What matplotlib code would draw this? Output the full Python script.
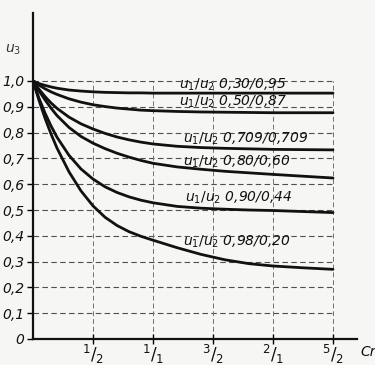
import matplotlib
matplotlib.use("Agg")
import matplotlib.pyplot as plt

# ---- data ----
cr = [0.0, 0.05, 0.1, 0.15, 0.2, 0.3, 0.4, 0.5, 0.6, 0.7, 0.8, 0.9, 1.0,
      1.2, 1.4, 1.6, 1.8, 2.0, 2.25, 2.5]
u3_030_095 = [1.0, 0.990, 0.983, 0.977, 0.972, 0.965, 0.961, 0.958, 0.956, 0.955,
              0.954, 0.954, 0.953, 0.953, 0.953, 0.953, 0.953, 0.953, 0.953, 0.953]
u3_050_087 = [1.0, 0.984, 0.970, 0.958, 0.948, 0.931, 0.918, 0.908, 0.901, 0.895,
              0.891, 0.887, 0.885, 0.882, 0.880, 0.879, 0.878, 0.877, 0.877, 0.877]
u3_0709_0709 = [1.0, 0.968, 0.940, 0.915, 0.894, 0.860, 0.834, 0.814, 0.797, 0.783,
                0.772, 0.763, 0.756, 0.747, 0.742, 0.739, 0.737, 0.735, 0.734, 0.733]
u3_080_060 = [1.0, 0.962, 0.927, 0.895, 0.866, 0.820, 0.785, 0.759, 0.738, 0.720,
              0.705, 0.692, 0.681, 0.667, 0.658, 0.650, 0.644, 0.638, 0.631, 0.624]
u3_090_044 = [1.0, 0.933, 0.876, 0.826, 0.782, 0.712, 0.659, 0.620, 0.590, 0.568,
              0.551, 0.538, 0.528, 0.514, 0.507, 0.503, 0.500, 0.498, 0.494, 0.490]
u3_098_020 = [1.0, 0.925, 0.856, 0.795, 0.740, 0.648, 0.574, 0.516, 0.472, 0.440,
              0.416, 0.398, 0.383, 0.354, 0.328, 0.307, 0.292, 0.283, 0.276, 0.270]

series = [u3_030_095, u3_050_087, u3_0709_0709, u3_080_060, u3_090_044, u3_098_020]
labels = ["0,30/0,95", "0,50/0,87", "0,709/0,709", "0,80/0,60", "0,90/0,44", "0,98/0,20"]
label_y = [0.985, 0.918, 0.775, 0.688, 0.546, 0.376]
label_x = [1.22, 1.22, 1.25, 1.25, 1.27, 1.25]

yticks = [0.0, 0.1, 0.2, 0.3, 0.4, 0.5, 0.6, 0.7, 0.8, 0.9, 1.0]
yticklabels = ["0", "0,1", "0,2", "0,3", "0,4", "0,5", "0,6", "0,7", "0,8", "0,9", "1,0"]
xticks = [0.5, 1.0, 1.5, 2.0, 2.5]
xticklabels = [r"$^{1}/_{2}$", r"$^{1}/_{1}$", r"$^{3}/_{2}$", r"$^{2}/_{1}$", r"$^{5}/_{2}$"]

plt.rcParams["mathtext.default"] = "it"
plt.rcParams["font.family"] = ["DejaVu Sans"]

bg = "#f6f6f4"
ink = "#111111"
fig = plt.figure(figsize=(3.75, 3.65), dpi=100, facecolor=bg)
ax = fig.add_axes([33 / 375, 1 - 339 / 365, 324 / 375, (339 - 13) / 365])
ax.set_facecolor(bg)
ax.set_xlim(0, 2.7)
ax.set_ylim(0, (339 - 13) / 258)

# grid
for yv in yticks[1:]:
    ax.plot([0, 2.5], [yv, yv], color="#505050", lw=0.8, ls=(0, (5, 3)), zorder=1)
for xv in xticks:
    ax.plot([xv, xv], [0, 1.0], color="#707070", lw=0.7, ls=(0, (5, 3)), zorder=1)

for ys in series:
    ax.plot(cr, ys, color=ink, lw=2.0, solid_capstyle="round",
            solid_joinstyle="round", zorder=3)

for lab, lx, ly in zip(labels, label_x, label_y):
    ax.text(lx, ly, r"$u_1/u_2$ " + lab, fontsize=10, style="italic",
            color=ink, ha="left", va="center", zorder=4)

for s in ["top", "right"]:
    ax.spines[s].set_visible(False)
for s in ["left", "bottom"]:
    ax.spines[s].set_linewidth(1.6)
    ax.spines[s].set_color(ink)

ax.set_yticks(yticks)
ax.set_yticklabels(yticklabels, fontsize=10, style="italic", color=ink)
ax.set_xticks(xticks)
ax.set_xticklabels(xticklabels, fontsize=12, color=ink)
ax.tick_params(axis="y", direction="out", length=4, width=1, pad=2)
ax.tick_params(axis="x", direction="inout", length=7, width=1, pad=-1)

ax.text(-0.1, 1.12, r"$u_3$", fontsize=10, color="#333333", ha="right", va="center",
        transform=ax.transData, clip_on=False)
ax.text(2.73, -0.05, "Cr", fontsize=10, style="italic", color=ink, ha="left",
        va="center", clip_on=False)

fig.savefig("out.png", dpi=100, facecolor=bg)
